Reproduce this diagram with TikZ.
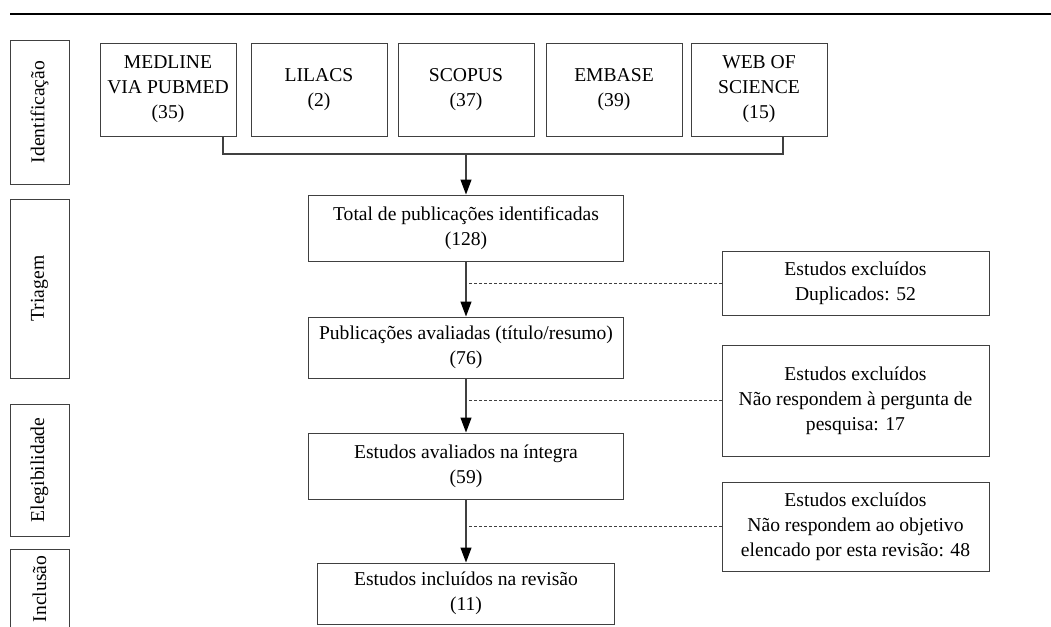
\documentclass[tikz,border=0pt]{standalone}
\usepackage{fontspec}
\setmainfont{Liberation Serif}
\usetikzlibrary{positioning, arrows.meta}
\tikzset{>={Triangle[length=7.5pt, width=5.5pt, color=black]}, % filled arrow heads
box/.style={draw=black!75, line width=0.5pt, align=center, inner sep=2pt,
  font=\fontsize{9.8}{12.5}\selectfont}, % every box
phase/.style={box, rotate=90, minimum height=29.5pt}, % stage labels on the left
src/.style={box, minimum width=68pt, minimum height=46.5pt}, % databases
mainbox/.style={box, minimum width=157.5pt, minimum height=33pt}, % main flow
excl/.style={box, minimum width=133.5pt}, % excluded studies
arr/.style={->, draw=black!75, line width=0.6pt}, % flow arrows
dots/.style={draw=black!75, line width=0.5pt, dash pattern=on 1.5pt off 1pt}, % exclusion links
}
\begin{document}
\begin{tikzpicture}[x=0.5pt, y=-0.5pt]
  \useasboundingbox (0,0) rectangle (1051,627);
  \draw[line width=0.8pt] (10,14) -- (1051,14);

  % stages
  \node[phase, minimum width=72pt] (ident) at (39.5,112) {Identificação};
  \node[phase, minimum width=89.5pt] (triag) at (39.5,288.5) {Triagem};
  \node[phase, minimum width=66pt] (eleg) at (39.5,470) {Elegibilidade};
  \node[phase, minimum width=40pt] (incl) at (39.5,589) {Inclusão};

  % databases
  \node[src] (med) at (168,89.5) {MEDLINE\\VIA PUBMED\\(35)};
  \node[src, right=7pt of med] (lil) {LILACS\\(2)};
  \node[src, right=5pt of lil] (sco) {SCOPUS\\(37)};
  \node[src, right=5.5pt of sco] (emb) {EMBASE\\(39)};
  \node[src, right=4pt of emb] (web) {WEB OF\\SCIENCE\\(15)};

  % main flow
  \node[mainbox] (tot) at (466,228) {Total de publicações identificadas\\(128)};
  \node[mainbox, minimum height=30.5pt, below=27.5pt of tot] (pub) {Publicações avaliadas (título/resumo)\\(76)};
  \node[mainbox, below=27pt of pub] (aval) {Estudos avaliados na íntegra\\(59)};
  \node[mainbox, minimum width=148.5pt, minimum height=30.5pt, below=31.5pt of aval] (fim) {Estudos incluídos na revisão\\(11)};

  % excluded
  \node[excl, minimum height=32pt] (dup) at (855.5,283) {Estudos excluídos\\Duplicados: 52};
  \node[excl, minimum height=55.5pt, below=14.5pt of dup] (perg) {Estudos excluídos\\Não respondem à pergunta de\\pesquisa: 17};
  \node[excl, minimum height=44.5pt, below=12.5pt of perg] (obj) {Estudos excluídos\\Não respondem ao objetivo\\elencado por esta revisão: 48};

  \coordinate (bl) at ([xshift=27.5pt]med.south);
  \coordinate (br) at ([xshift=12pt]web.south);
  \coordinate (join) at (466,154);

  \draw[draw=black!75, line width=0.6pt] (bl) |- (join) -| (br);
  \draw[arr] (join) -- (tot);
  \draw[arr] (tot) -- (pub);
  \draw[arr] (pub) -- (aval);
  \draw[arr] (aval) -- (fim);

  \draw[dots] (dup) -- (dup -| tot.south);
  \draw[dots] (perg) -- (perg -| tot.south);
  \draw[dots] (obj) -- (obj -| tot.south);
\end{tikzpicture}
\end{document}
